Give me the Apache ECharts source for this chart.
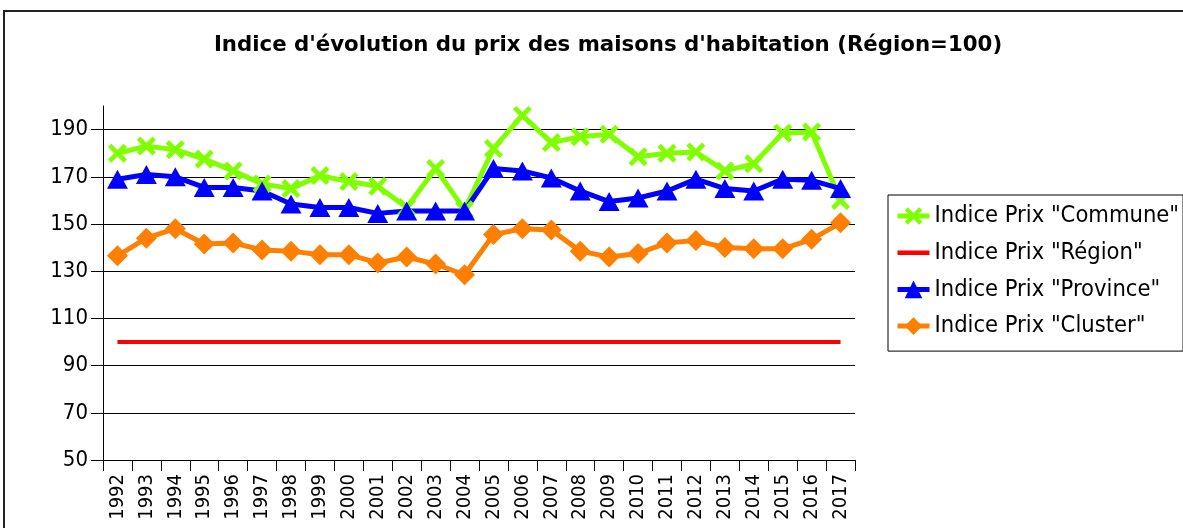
<!DOCTYPE html>
<html>
<head>
<meta charset="utf-8">
<title>Indice d'évolution du prix des maisons d'habitation</title>
<script src="https://cdn.jsdelivr.net/npm/echarts@6/dist/echarts.min.js"></script>
<style>
	html, body { margin: 0; padding: 0; background: #fff; }
	#chart { width: 1183px; height: 528px; }
</style>
</head>
<body>
<div id="chart"></div>
<script type="text/javascript">
	var years = ['1992','1993','1994','1995','1996','1997','1998','1999','2000','2001','2002','2003','2004',
		'2005','2006','2007','2008','2009','2010','2011','2012','2013','2014','2015','2016','2017'];
	var commune = [180, 183, 181.5, 177.5, 172.5, 167, 165, 170.5, 168, 166, 157, 173.5, 156,
		182, 196, 184.5, 187, 188, 178.5, 180, 180.5, 172.5, 175.5, 188.5, 189, 160];
	var region = [100, 100, 100, 100, 100, 100, 100, 100, 100, 100, 100, 100, 100,
		100, 100, 100, 100, 100, 100, 100, 100, 100, 100, 100, 100, 100];
	var province = [169, 171, 170, 165.5, 165.5, 164, 158.5, 157, 157, 154.5, 155.5, 155.5, 155.5,
		173.5, 172.5, 169.5, 164, 159.5, 161, 164, 169, 165, 164, 169, 168.5, 165];
	var cluster = [136.5, 144, 148, 141.5, 142, 139, 138.5, 137, 137, 133.5, 136, 133, 128.5,
		145.5, 148, 147.5, 138.5, 136, 137.5, 142, 143, 140, 139.5, 139.5, 143.5, 150.5];

	var FONT = '"DejaVu Sans Condensed", "DejaVu Sans", sans-serif';
	var crossPath = 'path://M0,3.5 L3.5,0 L10,6.5 L16.5,0 L20,3.5 L13.5,10 L20,16.5 L16.5,20 L10,13.5 L3.5,20 L0,16.5 L6.5,10 Z';

	var option = {
		animation: false,
		title: {
			text: 'Indice d\'évolution du prix des maisons d\'habitation (Région=100)',
			left: 603,
			textAlign: 'center',
			top: 30,
			textStyle: {
				fontFamily: '"DejaVu Sans", sans-serif',
				fontWeight: 'bold',
				fontSize: 21.3,
				color: '#000'
			}
		},
		graphic: [{
			type: 'rect',
			shape: { x: 4, y: 11, width: 1300, height: 700 },
			style: { fill: 'none', stroke: '#222', lineWidth: 2 },
			silent: true
		}],
		legend: {
			orient: 'vertical',
			left: 888,
			top: 195,
			padding: [9, 4, 13, 7],
			itemGap: 12.7,
			itemWidth: 32,
			itemHeight: 22,
			borderColor: '#000',
			borderWidth: 1,
			lineStyle: { width: 5 },
			textStyle: { fontFamily: FONT, fontSize: 23.5, color: '#000', lineHeight: 22 },
			data: [
				'Indice Prix "Commune"',
				{ name: 'Indice Prix "Région"', icon: 'path://M0,0 L32,0 L32,4.5 L0,4.5 Z' },
				'Indice Prix "Province"',
				'Indice Prix "Cluster"'
			]
		},
		grid: { left: 103, right: 328, top: 106, bottom: 68 },
		xAxis: {
			type: 'category',
			data: years,
			boundaryGap: true,
			axisLine: { lineStyle: { color: '#000', width: 1 } },
			axisTick: { show: true, interval: 0, length: 11, lineStyle: { color: '#000' } },
			axisLabel: { interval: 0, rotate: 90, margin: 14, fontFamily: FONT, fontSize: 20, color: '#000' }
		},
		yAxis: {
			type: 'value',
			min: 50,
			max: 200,
			interval: 20,
			axisLine: { show: true, lineStyle: { color: '#000', width: 1 } },
			axisTick: { show: true, length: 12, lineStyle: { color: '#000' } },
			axisLabel: { margin: 15, showMaxLabel: false, fontFamily: FONT, fontSize: 22, color: '#000' },
			splitLine: { show: true, showMaxLine: false, lineStyle: { color: '#000', width: 1 } }
		},
		series: [{
			name: 'Indice Prix "Commune"',
			type: 'line',
			data: commune,
			symbol: crossPath,
			symbolSize: 19,
			lineStyle: { color: '#80ff00', width: 5 },
			itemStyle: { color: '#80ff00' }
		}, {
			name: 'Indice Prix "Région"',
			type: 'line',
			data: region,
			symbol: 'none',
			lineStyle: { color: '#ff0000', width: 4 },
			itemStyle: { color: '#ff0000' }
		}, {
			name: 'Indice Prix "Province"',
			type: 'line',
			data: province,
			symbol: 'triangle',
			symbolSize: [21, 19],
			lineStyle: { color: '#0000ff', width: 5 },
			itemStyle: { color: '#0000ff' }
		}, {
			name: 'Indice Prix "Cluster"',
			type: 'line',
			data: cluster,
			symbol: 'diamond',
			symbolSize: [21, 21],
			lineStyle: { color: '#ff8000', width: 5 },
			itemStyle: { color: '#ff8000' }
		}]
	};

	var myChart = echarts.init(document.getElementById('chart'));
	myChart.setOption(option);
</script>
</body>
</html>
